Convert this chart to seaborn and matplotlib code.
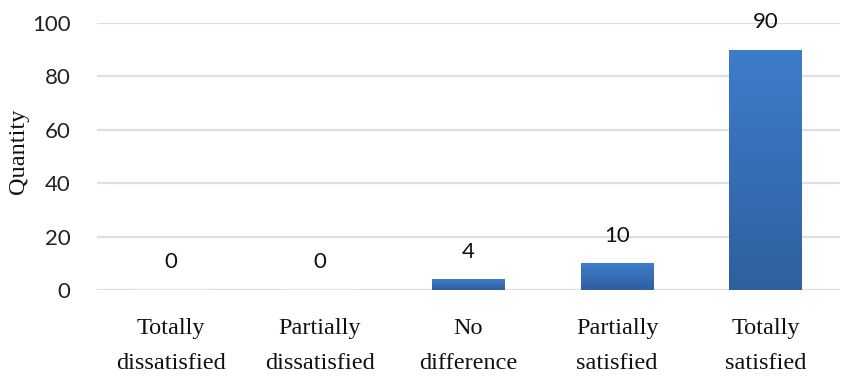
import numpy as np
import pandas as pd
import matplotlib
matplotlib.use("Agg")
import matplotlib.pyplot as plt
import seaborn as sns
from matplotlib.colors import LinearSegmentedColormap

categories = ["Totally\ndissatisfied", "Partially\ndissatisfied", "No\ndifference",
              "Partially\nsatisfied", "Totally\nsatisfied"]
values = [0, 0, 4, 10, 90]
y_ticks = [0, 20, 40, 60, 80, 100]

sns.set_theme(style="white")
df = pd.DataFrame({"cat": categories, "val": values})

fig = plt.figure(figsize=(8.5, 3.83), dpi=100)
ax = fig.add_axes([97/850, 1-290/383, 743/850, 267/383])

sns.barplot(data=df, x="cat", y="val", color="#3a72b8", width=0.49, ax=ax,
            saturation=1, zorder=3)

# gradient fill
cmap = LinearSegmentedColormap.from_list("g", ["#2f5f9e", "#3e7dcb"])
grad = np.linspace(0, 1, 256).reshape(-1, 1)
for p in ax.patches:
    x0, y0 = p.get_x(), p.get_y()
    w, h = p.get_width(), p.get_height()
    if h <= 0:
        continue
    im = ax.imshow(grad, extent=[x0, x0 + w, y0, y0 + h], origin="lower",
                   cmap=cmap, aspect="auto", zorder=3.5)
    im.set_clip_path(p)
    p.set_edgecolor("none")

ax.set_xlim(-0.5, len(categories) - 0.5)
ax.set_ylim(0, 100)
ax.set_yticks(y_ticks)
ax.set_yticklabels([str(t) for t in y_ticks], fontfamily="Lato", fontsize=16, color="#222222")
ax.set_xticks(range(len(categories)))
ax.set_xticklabels(categories, fontfamily="Liberation Serif", fontsize=17.5,
                   color="#111111", linespacing=1.9)
ax.tick_params(axis="x", length=0, pad=20)
ax.tick_params(axis="y", length=0, pad=19)
ax.set_xlabel("")
ax.set_ylabel("Quantity", fontfamily="Liberation Serif", fontsize=17.5, color="#111111")
ax.yaxis.set_label_coords(-0.092, 0.52)

for y in y_ticks:
    ax.axhline(y, color="#dcdfe6", lw=1.6, zorder=1)
for s in ax.spines.values():
    s.set_visible(False)

for i, v in enumerate(values):
    ax.annotate(str(v), (i, v), xytext=(0, 20), textcoords="offset points",
                ha="center", va="center", fontfamily="Lato", fontsize=16, color="#111111")

fig.savefig("out.png", dpi=100)
